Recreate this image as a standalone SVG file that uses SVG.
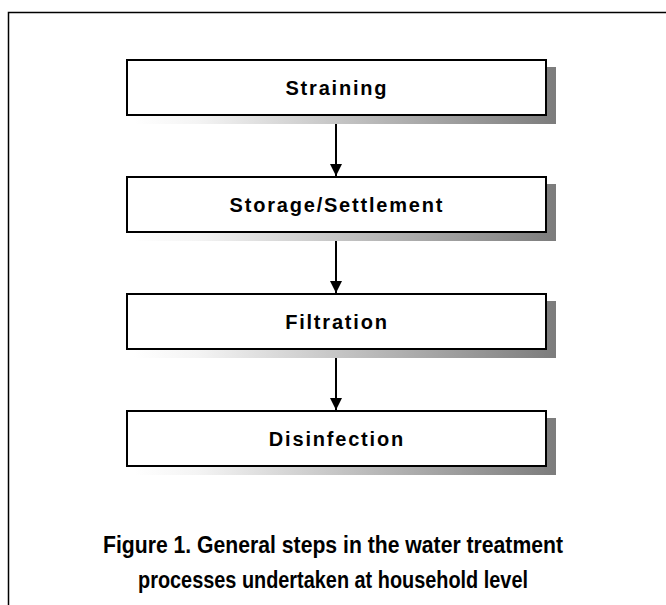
<svg xmlns="http://www.w3.org/2000/svg" width="666" height="605" viewBox="0 0 666 605">
<defs>
<linearGradient id="shade" x1="0" y1="0" x2="1" y2="0">
<stop offset="0" stop-color="#ffffff"/>
<stop offset="0.15" stop-color="#f4f4f4"/>
<stop offset="1" stop-color="#7c7c7c"/>
</linearGradient>
<marker id="arrow" markerWidth="12" markerHeight="13" refX="12" refY="6" orient="auto" markerUnits="userSpaceOnUse">
<path d="M0,0 L12,6 L0,12 Z" fill="#000"/>
</marker>
<style>
.shadow{fill:url(#shade);}
.box{fill:#fff;stroke:#000;stroke-width:2;}
.lbl{font-family:"Liberation Sans",Arial,sans-serif;font-weight:bold;font-size:20px;letter-spacing:1.8px;text-anchor:middle;fill:#000;}
.cap{font-family:"Liberation Sans",Arial,sans-serif;font-weight:bold;font-size:23.5px;text-anchor:middle;fill:#000;}
.conn{stroke:#000;stroke-width:2;fill:none;}
</style>
</defs>
<rect x="8.5" y="12.5" width="700" height="700" fill="#fff" stroke="#000" stroke-width="1.5"/>
<g id="connectors">
<line class="conn" x1="336" y1="116" x2="336" y2="176" marker-end="url(#arrow)"/>
<line class="conn" x1="336" y1="233" x2="336" y2="293" marker-end="url(#arrow)"/>
<line class="conn" x1="336" y1="350" x2="336" y2="410" marker-end="url(#arrow)"/>
</g>
<g id="node-straining">
<rect class="shadow" x="134" y="67" width="422" height="57"/>
<rect class="box" x="127" y="60" width="419" height="55"/>
<text class="lbl" x="336.9" y="94.5">Straining</text>
</g>
<g id="node-storage">
<rect class="shadow" x="134" y="184" width="422" height="57"/>
<rect class="box" x="127" y="177" width="419" height="55"/>
<text class="lbl" x="336.9" y="211.5">Storage/Settlement</text>
</g>
<g id="node-filtration">
<rect class="shadow" x="134" y="301" width="422" height="57"/>
<rect class="box" x="127" y="294" width="419" height="55"/>
<text class="lbl" x="336.9" y="328.5">Filtration</text>
</g>
<g id="node-disinfection">
<rect class="shadow" x="134" y="418" width="422" height="57"/>
<rect class="box" x="127" y="411" width="419" height="55"/>
<text class="lbl" x="336.9" y="445.5">Disinfection</text>
</g>
<g id="caption">
<text class="cap" x="333" y="553" textLength="460" lengthAdjust="spacingAndGlyphs">Figure 1. General steps in the water treatment</text>
<text class="cap" x="333" y="588" textLength="390" lengthAdjust="spacingAndGlyphs">processes undertaken at household level</text>
</g>
</svg>
